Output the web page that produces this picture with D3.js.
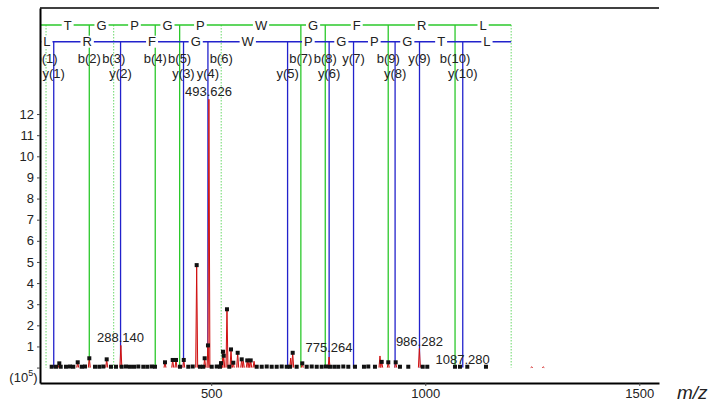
<!DOCTYPE html>
<html>
<head>
<meta charset="utf-8">
<script src="https://cdn.jsdelivr.net/npm/d3@7"></script>
<style>
  body { margin: 0; background: #fff; }
  text { font-family: "Liberation Sans", Arial, sans-serif; fill: #222; }
</style>
</head>
<body>
<svg id="chart" width="713" height="403"></svg>
<script>
// peptide and fragment ions
const sequence = "LTGPGPWGFRL";
const seqStart = 1.01;
const precursor = 1200.65;
const bIons = [114.09, 215.14, 272.16, 369.21, 426.23, 523.28, 709.36, 766.38, 913.45, 1069.55];
const bMatched = [false, true, false, true, true, false, true, true, true, true];
const yIons = [132.10, 288.20, 435.27, 492.29, 678.37, 775.42, 832.44, 929.50, 986.52, 1087.56];
const yMatched = [true, true, true, true, true, true, true, true, true, true];

// centroid peaks [m/z, intensity (x10^5)]
const centroids = [
  [127.3, 0.04], [137.4, 0.04], [145.1, 0.2], [148.4, 0.04], [160.7, 0.04], [170.1, 0.05],
  [177.8, 0.04], [188.1, 0.25], [197.4, 0.04], [205.1, 0.05], [215.2, 0.44], [228.5, 0.04],
  [238.5, 0.04], [247.9, 0.05], [255.8, 0.39], [265.8, 0.04], [277.5, 0.04], [290.8, 0.04],
  [300.9, 0.05], [310.2, 0.04], [319.6, 0.04], [329.6, 0.05], [341.3, 0.04], [350.6, 0.04],
  [360.9, 0.05], [368.6, 0.04], [392.0, 0.25], [410.0, 0.36], [417.7, 0.36], [427.0, 0.04],
  [435.8, 0.36], [446.4, 0.04], [456.7, 0.05], [466.0, 4.85], [473.7, 0.04], [481.4, 0.04],
  [484.7, 0.44], [492.4, 1.05], [501.1, 0.04], [512.8, 0.05], [520.5, 0.04], [522.8, 0.21],
  [527.5, 0.75], [529.1, 0.56], [536.8, 2.76], [542.2, 0.04], [546.2, 0.86], [551.5, 0.23],
  [561.8, 0.7], [571.2, 0.39], [584.2, 0.34], [592.2, 0.34], [606.2, 0.04], [617.9, 0.04],
  [629.6, 0.05], [641.2, 0.04], [652.9, 0.04], [664.6, 0.05], [676.3, 0.04], [684.0, 0.04],
  [690.3, 0.7], [699.6, 0.04], [712.7, 0.2], [723.0, 0.04], [734.7, 0.05], [746.4, 0.04],
  [758.0, 0.04], [768.1, 0.05], [777.4, 0.04], [787.5, 0.04], [796.8, 0.04], [808.5, 0.05],
  [820.2, 0.04], [835.8, 0.04], [856.8, 0.04], [866.9, 0.05], [882.5, 0.04], [898.2, 0.27],
  [913.6, 0.25], [930.9, 0.25], [940.9, 0.04], [960.3, 0.04], [994.0, 0.04], [1004.7, 0.04],
  [1069.4, 0.04], [1081.1, 0.04], [1098.2, 0.04], [1141.8, 0.04]
];

// profile-only maxima (red trace)
const profilePeaks = [
  [288.9, 1.05], [494.6, 12.7], [575.0, 0.3], [588.0, 0.25], [600.0, 0.3], [685.6, 0.45],
  [775.26, 0.5], [894.2, 0.55], [986.28, 0.9], [1248.6, 0.03], [1275.7, 0.03]
];

// labelled peaks
const labelledPeaks = [[288.140, 1.05], [493.626, 12.7], [775.264, 0.6], [986.282, 0.9], [1087.280, 0.05]];

const xTicks = [500, 1000, 1500];
const yTicks = [0, 1, 2, 3, 4, 5, 6, 7, 8, 9, 10, 11, 12];

const width = 713;
const height = 403;
const margin = { top: 8, right: 54, bottom: 20, left: 40 };

const x = d3.scaleLinear().domain([100, 1546]).range([margin.left, width - margin.right]);
const y = d3.scaleLinear().domain([-0.73, 17.02]).range([height - margin.bottom, margin.top]);

const green = "#2bc82b";
const greenDot = "#6ad86a";
const blue = "#2222cc";
const bRowY = 25;
const yRowY = 41.7;
const labelRows = [62.5, 78];

const svg = d3.select("#chart");

svg.append("clipPath").attr("id", "plot-clip")
  .append("rect")
  .attr("x", margin.left).attr("y", 0)
  .attr("width", width - margin.right - margin.left)
  .attr("height", height - margin.bottom);

const plot = svg.append("g").attr("clip-path", "url(#plot-clip)");

// vertical ion lines
const bData = bIons.map((mz, i) => ({ mz, matched: bMatched[i], label: `b(${i + 1})`, kind: "b" }));
const yData = yIons.map((mz, i) => ({ mz, matched: yMatched[i], label: `y(${i + 1})`, kind: "y" }));

plot.selectAll(".bline")
  .data(bData)
  .enter()
  .append("line")
  .attr("x1", d => x(d.mz)).attr("x2", d => x(d.mz))
  .attr("y1", bRowY).attr("y2", y(0))
  .attr("stroke", d => d.matched ? green : greenDot)
  .attr("stroke-width", d => d.matched ? 1.3 : 1)
  .attr("stroke-dasharray", d => d.matched ? null : "1.5,1.5");

plot.append("line")
  .attr("x1", x(precursor)).attr("x2", x(precursor))
  .attr("y1", bRowY).attr("y2", y(0))
  .attr("stroke", greenDot).attr("stroke-width", 1)
  .attr("stroke-dasharray", "1.5,1.5");

plot.selectAll(".yline")
  .data(yData)
  .enter()
  .append("line")
  .attr("x1", d => x(d.mz)).attr("x2", d => x(d.mz))
  .attr("y1", yRowY).attr("y2", y(0))
  .attr("stroke", blue)
  .attr("stroke-width", 1.3);

// red profile spikes
const spikes = [...profilePeaks, ...centroids.filter(d => d[1] > 0.1)];
plot.selectAll(".spike")
  .data(spikes)
  .enter()
  .append("path")
  .attr("d", d => `M${x(d[0]) - 1},${y(0)}L${x(d[0])},${y(d[1])}L${x(d[0]) + 1},${y(0)}`)
  .attr("fill", "#f2b8b8")
  .attr("stroke", "#d01010")
  .attr("stroke-width", 1);

// sequence rows
function drawRow(bounds, letters, rowY, color) {
  plot.append("line")
    .attr("x1", x(bounds[0])).attr("x2", x(bounds[bounds.length - 1]))
    .attr("y1", rowY).attr("y2", rowY)
    .attr("stroke", color).attr("stroke-width", 1.5);

  letters.forEach((ch, i) => {
    const x0 = Math.max(x(bounds[i]), margin.left);
    const x1 = Math.min(x(bounds[i + 1]), width - margin.right);
    const g = plot.append("g");
    const t = g.append("text")
      .attr("x", (x0 + x1) / 2).attr("y", rowY)
      .attr("dy", "0.36em")
      .attr("text-anchor", "middle")
      .style("font-size", "13px")
      .text(ch);
    const w = t.node().getComputedTextLength();
    if (x1 - x0 < w + 2) { g.remove(); return; }
    g.insert("rect", "text")
      .attr("x", (x0 + x1) / 2 - w / 2 - 2).attr("y", rowY - 6)
      .attr("width", w + 4).attr("height", 12)
      .attr("fill", "#fff");
  });
}

drawRow([seqStart, ...bIons, precursor], sequence.split(""), bRowY, green);
drawRow([seqStart, ...yIons, precursor], sequence.split("").reverse(), yRowY, blue);

// ion labels, staggered into rows
const placed = [[], []];
[...bData, ...yData].forEach(d => {
  const t = plot.append("text")
    .attr("x", x(d.mz))
    .attr("text-anchor", "middle")
    .style("font-size", "13px")
    .text(d.label);
  const w = t.node().getComputedTextLength();
  const span = [x(d.mz) - w / 2, x(d.mz) + w / 2];
  let row = 0;
  if (d.kind === "y") {
    row = placed[0].some(s => span[0] < s[1] + 1 && span[1] > s[0] - 1) ? 1 : 0;
  }
  placed[row].push(span);
  t.attr("y", labelRows[row]);
});

// centroid markers
plot.selectAll(".dot")
  .data(centroids)
  .enter()
  .append("rect")
  .attr("x", d => x(d[0]) - 2)
  .attr("y", d => y(d[1]) - 2)
  .attr("width", 4)
  .attr("height", 4)
  .attr("fill", "#111");

// peak m/z labels
plot.selectAll(".plabel")
  .data(labelledPeaks)
  .enter()
  .append("text")
  .attr("x", d => x(d[0]))
  .attr("y", d => y(d[1]) - 3)
  .attr("text-anchor", "middle")
  .style("font-size", "13px")
  .text(d => d[0].toFixed(3));

// axes
const xAxis = svg.append("g")
  .attr("transform", `translate(0,${height - margin.bottom})`)
  .call(d3.axisBottom(x).tickValues(xTicks).tickSize(3).tickSizeOuter(0).tickPadding(3)
    .tickFormat(d3.format("d")));

const yAxis = svg.append("g")
  .attr("transform", `translate(${margin.left},0)`)
  .call(d3.axisLeft(y).tickValues(yTicks).tickSize(3).tickSizeOuter(0).tickPadding(3)
    .tickFormat(d => d === 0 ? "" : d));

[xAxis, yAxis].forEach(a => {
  a.select(".domain").attr("stroke", "#000").attr("stroke-width", 2);
  a.selectAll(".tick line").attr("stroke", "#444");
  a.selectAll(".tick text").style("font-size", "13px").attr("fill", "#222")
    .style("font-family", '"Liberation Sans", Arial, sans-serif');
});

svg.append("line")
  .attr("x1", margin.left).attr("x2", width - margin.right)
  .attr("y1", margin.top).attr("y2", margin.top)
  .attr("stroke", "#000").attr("stroke-width", 1.5);

// unit label
const unit = svg.append("text")
  .attr("x", 37.5).attr("y", 382)
  .attr("text-anchor", "end")
  .style("font-size", "13px");
unit.append("tspan").text("(10");
unit.append("tspan").attr("dy", -6).style("font-size", "9px").text("5");
unit.append("tspan").attr("dy", 6).text(")");

svg.append("text")
  .attr("x", 677).attr("y", 399)
  .style("font-size", "19px")
  .style("font-style", "italic")
  .text("m/z");
</script>
</body>
</html>
